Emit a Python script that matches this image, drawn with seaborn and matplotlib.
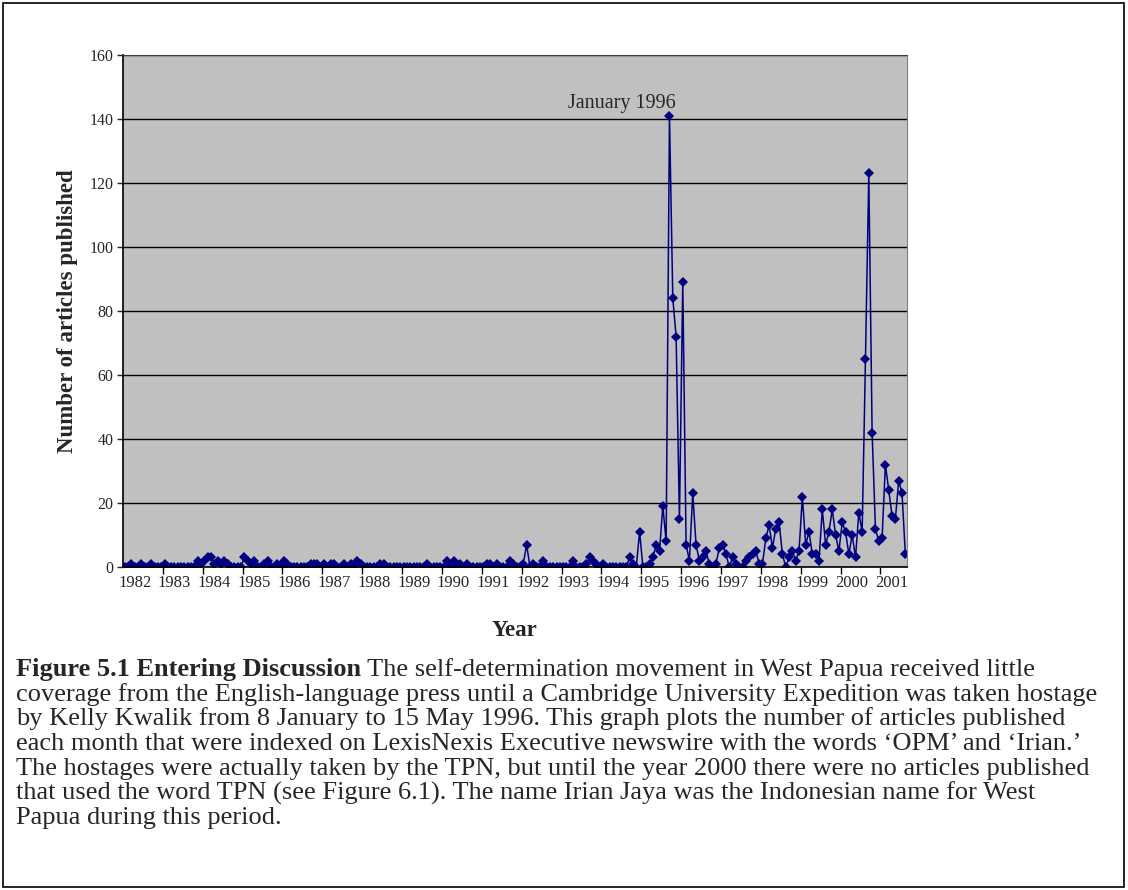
import numpy as np
import pandas as pd
import matplotlib
matplotlib.use('Agg')
import matplotlib.pyplot as plt
import seaborn as sns
from matplotlib.patches import Rectangle

# articles per month (Jan..Dec)
y1982 = [0, 0, 1, 0, 0, 1, 0, 0, 1, 0, 0, 0]
y1983 = [1, 0, 0, 0, 0, 0, 0, 0, 0, 0, 2, 1]
y1984 = [2, 3, 3, 1, 2, 1, 2, 1, 0, 0, 0, 0]
y1985 = [3, 2, 1, 2, 0, 0, 1, 2, 0, 0, 1, 0]
y1986 = [2, 1, 0, 0, 0, 0, 0, 0, 1, 1, 1, 0]
y1987 = [1, 0, 1, 1, 0, 0, 1, 0, 1, 0, 2, 1]
y1988 = [0, 0, 0, 0, 0, 1, 1, 0, 0, 0, 0, 0]
y1989 = [0, 0, 0, 0, 0, 0, 0, 1, 0, 0, 0, 0]
y1990 = [0, 2, 0, 2, 0, 1, 0, 1, 0, 0, 0, 0]
y1991 = [0, 1, 1, 0, 1, 0, 0, 0, 2, 1, 0, 0]
y1992 = [1, 7, 0, 1, 0, 0, 2, 0, 0, 0, 0, 0]
y1993 = [0, 0, 0, 2, 0, 0, 0, 1, 3, 2, 1, 0]
y1994 = [1, 0, 0, 0, 0, 0, 0, 0, 3, 1, 0, 11]
y1995 = [0, 0, 1, 3, 7, 5, 19, 8, 141, 84, 72, 15]
y1996 = [89, 7, 2, 23, 7, 2, 3, 5, 1, 0, 1, 6]
y1997 = [7, 4, 0, 3, 1, 0, 0, 2, 3, 4, 5, 1]
y1998 = [1, 9, 13, 6, 12, 14, 4, 0, 3, 5, 2, 5]
y1999 = [22, 7, 11, 4, 4, 2, 18, 7, 11, 18, 10, 5]
y2000 = [14, 11, 4, 10, 3, 17, 11, 65, 123, 42, 12, 8]
y2001 = [9, 32, 24, 16, 15, 27, 23, 4]

year_labels = [str(y) for y in range(1982, 2002)]
peak_label = "January 1996"

articles = (y1982 + y1983 + y1984 + y1985 + y1986 + y1987 + y1988 + y1989 + y1990
            + y1991 + y1992 + y1993 + y1994 + y1995 + y1996 + y1997 + y1998
            + y1999 + y2000 + y2001)
df = pd.DataFrame({'month': np.arange(len(articles)), 'articles': articles})

caption_bold = "Figure 5.1 Entering Discussion"
caption_lines = [
    " The self-determination movement in West Papua received little",
    "coverage from the English-language press until a Cambridge University Expedition was taken hostage",
    "by Kelly Kwalik from 8 January to 15 May 1996. This graph plots the number of articles published",
    "each month that were indexed on LexisNexis Executive newswire with the words \u2018OPM\u2019 and \u2018Irian.\u2019",
    "The hostages were actually taken by the TPN, but until the year 2000 there were no articles published",
    "that used the word TPN (see Figure 6.1). The name Irian Jaya was the Indonesian name for West",
    "Papua during this period.",
]

sns.set_style('white')
plt.rcParams['font.family'] = ['Liberation Serif', 'DejaVu Serif']

fig = plt.figure(figsize=(11.28, 8.9), dpi=100)
ax = fig.add_axes([123 / 1128, 1 - 567 / 890, 784 / 1128, 512 / 890])
ax.set_facecolor('#C0C0C0')

sns.lineplot(data=df, x='month', y='articles', ax=ax, color='#000080',
             marker='D', markersize=5.5, linewidth=1.1, markeredgewidth=0)

n = len(articles)
ax.set_xlim(-0.5, n - 0.5)
ax.set_ylim(0, 160)
ax.set_yticks(range(0, 161, 20))
ax.yaxis.grid(True, color='black', linewidth=1.0)
ax.set_axisbelow(True)

ax.set_xticks([12 * k - 0.5 for k in range(1, 20)])
ax.set_xticklabels([])
ax.set_xticks([12 * k + 3 for k in range(len(year_labels))], minor=True)
ax.set_xticklabels(year_labels, minor=True)
ax.tick_params(axis='x', which='major', length=5, width=1, color='black', direction='out', bottom=True)
ax.tick_params(axis='x', which='minor', length=0, pad=6, labelsize=12)
ax.tick_params(axis='y', length=4, width=1, direction='out', left=True, pad=3, labelsize=11.5)

for side in ['left', 'bottom']:
    ax.spines[side].set_color('black')
    ax.spines[side].set_linewidth(1.2)
ax.spines['top'].set_color('#404040')
ax.spines['right'].set_color('#808080')

ax.set_ylabel('Number of articles published', fontsize=16.5, fontweight='bold')
ax.yaxis.set_label_coords(-0.057, 0.5)
ax.set_xlabel('Year', fontsize=16.5, fontweight='bold')
ax.xaxis.set_label_coords(0.5, -0.104)

peak = int(np.argmax(articles))
ax.annotate(peak_label, xy=(peak, articles[peak]), xytext=(-34, 9),
            textcoords='offset points', ha='center', va='center', fontsize=14.5)

# caption under the chart
x0 = 16 / 1128
base = 676
cap_size = 19
t = fig.text(x0, 1 - base / 890, caption_bold, fontsize=cap_size, fontweight='bold', va='baseline')
fig.canvas.draw()
fig.text(t.get_window_extent().x1 / fig.bbox.width, 1 - base / 890, caption_lines[0],
         fontsize=cap_size, va='baseline')
for i, line in enumerate(caption_lines[1:], start=1):
    fig.text(x0, 1 - (base + 24.7 * i) / 890, line, fontsize=cap_size, va='baseline')

fig.patches.append(Rectangle((3 / 1128, 3 / 890), 1121 / 1128, 884 / 890, transform=fig.transFigure,
                             fill=False, edgecolor='black', linewidth=1.2))

fig.savefig('out.png', dpi=100)
